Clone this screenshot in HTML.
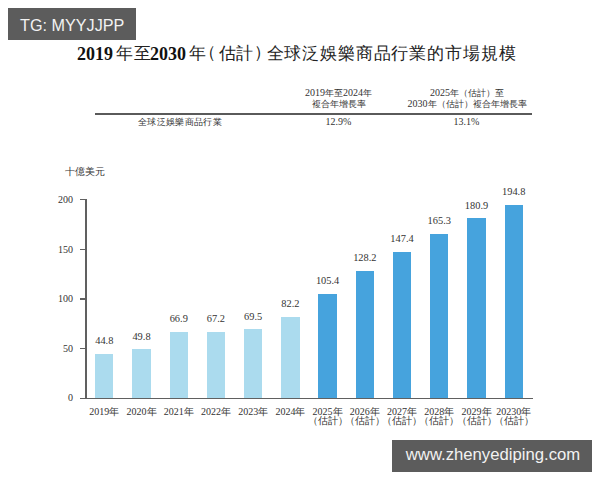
<!DOCTYPE html>
<html><head><meta charset="utf-8"><style>
html,body{margin:0;padding:0;background:#fff;width:600px;height:480px;overflow:hidden;position:relative}
div{position:absolute;white-space:nowrap}
.serif{font-family:"Liberation Serif",serif}
.tg{left:8px;top:8px;width:128px;height:32px;background:#5c5c5c;color:#f2f2f2;font-family:"Liberation Sans",sans-serif;font-size:16.2px;line-height:34px;text-indent:12px}
.wm{left:392px;top:440px;width:200px;height:31.6px;background:#5c5c5c;color:#f2f2f2;font-family:"Liberation Sans",sans-serif;font-size:16.7px;line-height:30.4px;text-align:center;text-indent:2px}
.title{left:77px;top:44px;font-family:"Liberation Serif",serif;font-weight:normal;font-size:17px;color:#222;line-height:22px;letter-spacing:0.3px}
.t{top:43px;font-family:"Liberation Sans",sans-serif;font-size:17px;color:#222;line-height:22px}
.tb{font-family:"Liberation Serif",serif;font-weight:bold;color:#111;top:42.5px;font-size:18px}
.th{font-family:"Liberation Serif",serif;font-size:9px;color:#333;line-height:11px;text-align:center;width:160px}
.th i{font-style:normal;font-size:10px}
.hr{left:95.3px;top:113.2px;width:437.2px;height:1.6px;background:#5a5a5a}
.bar{width:18.4px}
.vl,.xl{width:60px;text-align:center;font-family:"Liberation Serif",serif;font-size:10px;color:#333;line-height:10px}
.vl{font-size:10.4px}
.xl{line-height:9.3px}
.yl{left:40px;width:33px;text-align:right;font-family:"Liberation Serif",serif;font-size:10px;color:#333;line-height:14px}
.tick{left:80px;width:6.5px;height:1.4px;background:#606060}
.yaxis{left:85.4px;top:198.9px;width:1.5px;height:200px;background:#606060}
.xaxis{left:80px;top:397.9px;width:452.5px;height:1.5px;background:#606060}
</style></head><body>
<div class="tg">TG: MYYJJPP</div>
<div class="t tb" style="left:77px">2019</div>
<div class="t" style="left:116px;letter-spacing:1.2px">年至</div>
<div class="t tb" style="left:150px">2030</div>
<div class="t" style="left:189px">年</div>
<div class="t" style="left:199px;top:42px">（</div>
<div class="t" style="left:218.5px;letter-spacing:0.6px">估計</div>
<div class="t" style="left:253.7px;top:42px">）</div>
<div class="t" style="left:266.5px;letter-spacing:0.85px">全球泛娛樂商品行業的市場規模</div>
<div class="th" style="left:258.5px;top:88px;line-height:10.5px"><i>2019</i>年至<i>2024</i>年<br>複合年增長率</div>
<div class="th" style="left:387px;top:88px;line-height:10.5px"><i>2025</i>年（估計）至<br><i>2030</i>年（估計）複合年增長率</div>
<div class="hr"></div>
<div class="th" style="left:100px;top:117px;font-size:9.4px;letter-spacing:0.3px">全球泛娛樂商品行業</div>
<div class="th" style="left:258.5px;top:116px"><i>12.9%</i></div>
<div class="th" style="left:386.5px;top:115.5px"><i>13.1%</i></div>
<div class="th" style="left:65px;top:165.5px;width:auto;text-align:left;font-size:9.6px">十億美元</div>
<div class="tick" style="top:397.90px"></div><div class="yl" style="top:391.40px">0</div><div class="tick" style="top:348.10px"></div><div class="yl" style="top:341.60px">50</div><div class="tick" style="top:298.30px"></div><div class="yl" style="top:292.40px">100</div><div class="tick" style="top:248.50px"></div><div class="yl" style="top:242.60px">150</div><div class="tick" style="top:198.70px"></div><div class="yl" style="top:192.80px">200</div>
<div class="bar" style="left:95.10px;top:353.98px;height:44.62px;background:#abdbee"></div><div class="vl" style="left:74.30px;top:336.48px">44.8</div><div class="xl" style="left:74.30px;top:406.8px">2019年</div><div class="bar" style="left:132.32px;top:349.00px;height:49.60px;background:#abdbee"></div><div class="vl" style="left:111.52px;top:331.50px">49.8</div><div class="xl" style="left:111.52px;top:406.8px">2020年</div><div class="bar" style="left:169.54px;top:331.97px;height:66.63px;background:#abdbee"></div><div class="vl" style="left:148.74px;top:314.47px">66.9</div><div class="xl" style="left:148.74px;top:406.8px">2021年</div><div class="bar" style="left:206.76px;top:331.67px;height:66.93px;background:#abdbee"></div><div class="vl" style="left:185.96px;top:314.17px">67.2</div><div class="xl" style="left:185.96px;top:406.8px">2022年</div><div class="bar" style="left:243.98px;top:329.38px;height:69.22px;background:#abdbee"></div><div class="vl" style="left:223.18px;top:311.88px">69.5</div><div class="xl" style="left:223.18px;top:406.8px">2023年</div><div class="bar" style="left:281.20px;top:316.73px;height:81.87px;background:#abdbee"></div><div class="vl" style="left:260.40px;top:299.23px">82.2</div><div class="xl" style="left:260.40px;top:406.8px">2024年</div><div class="bar" style="left:318.42px;top:293.62px;height:104.98px;background:#46a3dd"></div><div class="vl" style="left:297.62px;top:276.12px">105.4</div><div class="xl" style="left:297.62px;top:406.8px">2025年<br>（估計）</div><div class="bar" style="left:355.64px;top:270.91px;height:127.69px;background:#46a3dd"></div><div class="vl" style="left:334.84px;top:253.41px">128.2</div><div class="xl" style="left:334.84px;top:406.8px">2026年<br>（估計）</div><div class="bar" style="left:392.86px;top:251.79px;height:146.81px;background:#46a3dd"></div><div class="vl" style="left:372.06px;top:234.29px">147.4</div><div class="xl" style="left:372.06px;top:406.8px">2027年<br>（估計）</div><div class="bar" style="left:430.08px;top:233.96px;height:164.64px;background:#46a3dd"></div><div class="vl" style="left:409.28px;top:216.46px">165.3</div><div class="xl" style="left:409.28px;top:406.8px">2028年<br>（估計）</div><div class="bar" style="left:467.30px;top:218.42px;height:180.18px;background:#46a3dd"></div><div class="vl" style="left:446.50px;top:200.92px">180.9</div><div class="xl" style="left:446.50px;top:406.8px">2029年<br>（估計）</div><div class="bar" style="left:504.52px;top:204.58px;height:194.02px;background:#46a3dd"></div><div class="vl" style="left:483.72px;top:187.08px">194.8</div><div class="xl" style="left:483.72px;top:406.8px">20230年<br>（估計）</div>
<div class="yaxis"></div>
<div class="xaxis"></div>
<div class="wm">www.zhenyediping.com</div>
</body></html>
